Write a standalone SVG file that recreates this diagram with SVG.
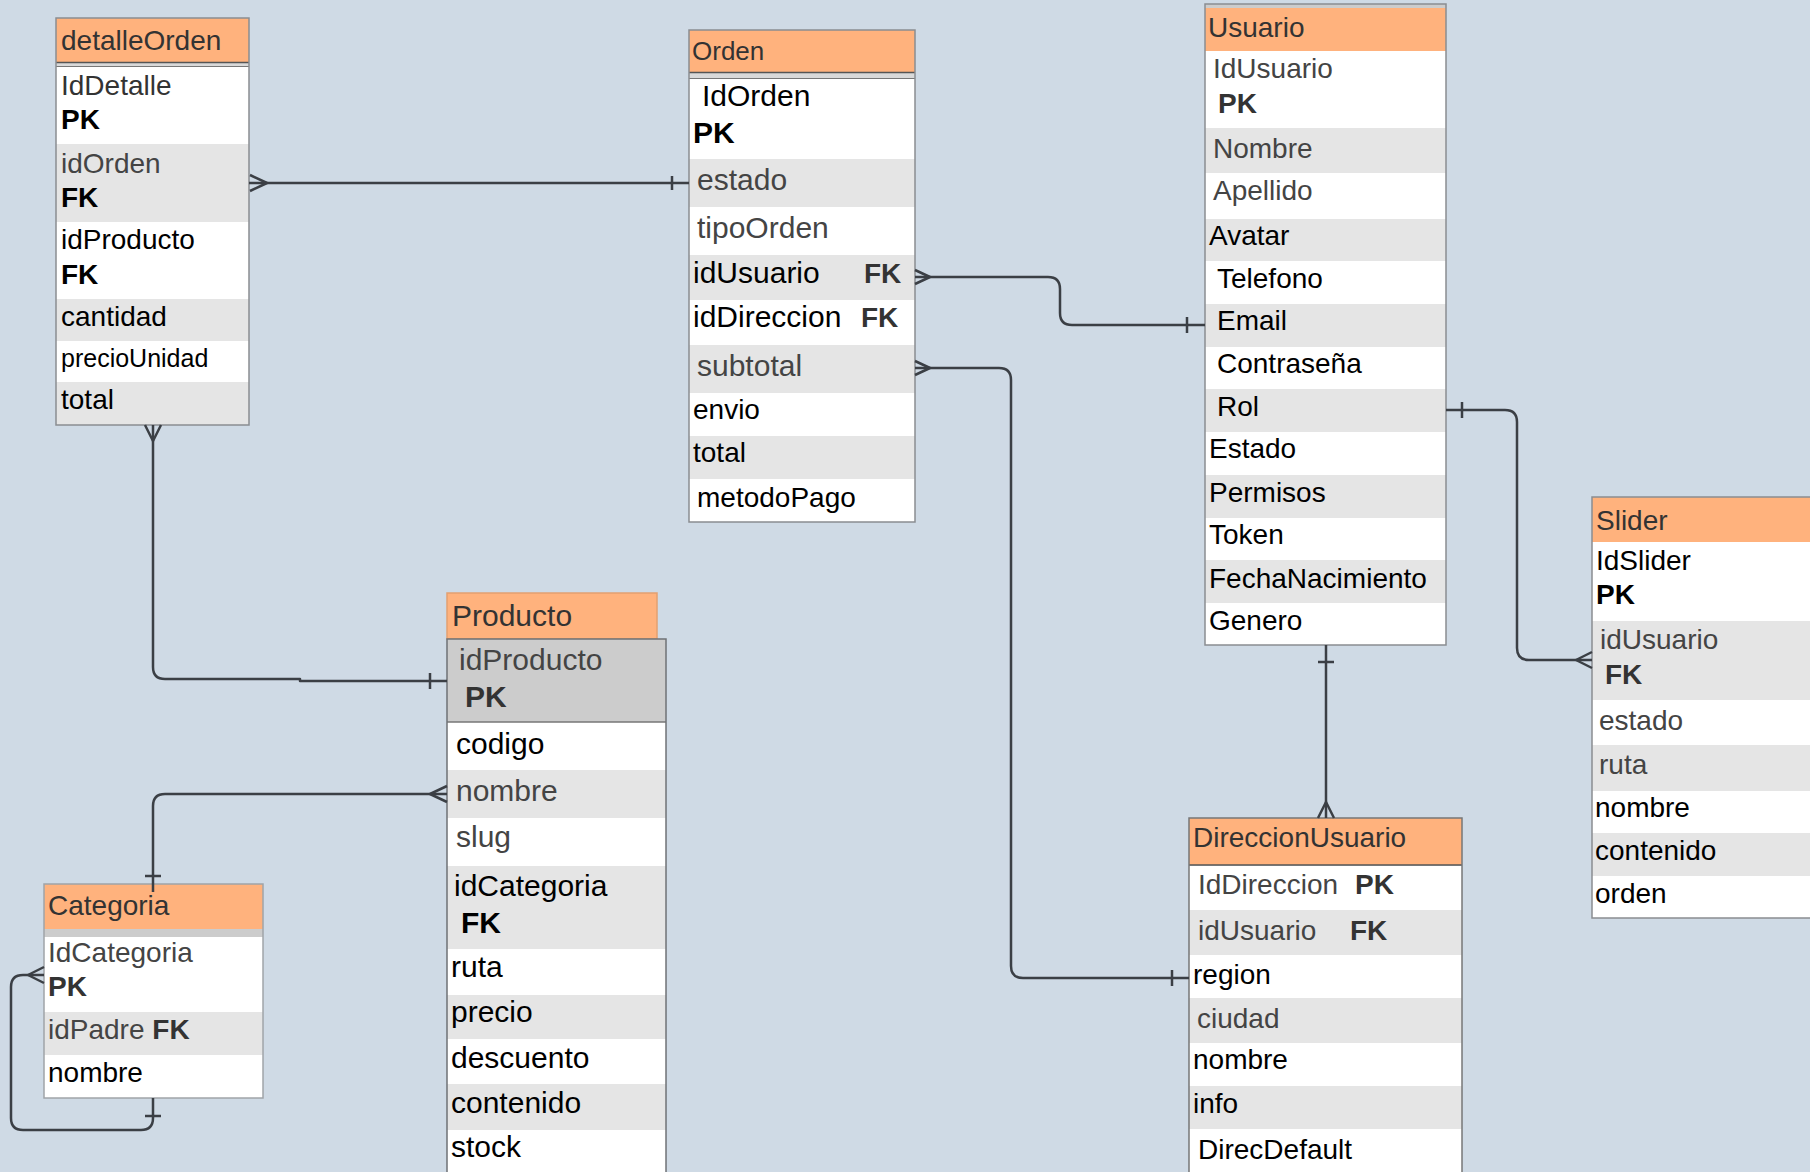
<svg xmlns="http://www.w3.org/2000/svg" width="1810" height="1172" viewBox="0 0 1810 1172">
<style>
text{font-family:"Liberation Sans",Arial,sans-serif;font-size:28px;fill:#000}
.h{fill:#ffb27d}
.w{fill:#ffffff}
.g{fill:#e5e5e5}
.d{fill:#cccccc}
.ht{fill:#333}
.gr{fill:#444}
.b{font-weight:bold}
.o{fill:none;stroke:#8a8d91;stroke-width:1.5}
.c path{fill:none;stroke:#3b3f45;stroke-width:2.5;stroke-linejoin:round}
.f30{font-size:30px}
</style>
<rect width="1810" height="1172" fill="#cfdae5"/>

<g id="detalleOrden">
<rect class="h" x="56" y="18" width="193" height="44"/>
<text class="ht" x="61" y="50">detalleOrden</text>
<rect x="56" y="62" width="193" height="5" fill="#d9d9d9"/>
<line x1="56" y1="62.5" x2="249" y2="62.5" stroke="#555" stroke-width="1.5"/>
<line x1="56" y1="66.5" x2="249" y2="66.5" stroke="#777" stroke-width="1"/>
<rect class="w" x="56" y="67" width="193" height="77"/>
<rect class="g" x="56" y="144" width="193" height="78"/>
<rect class="w" x="56" y="222" width="193" height="77"/>
<rect class="g" x="56" y="299" width="193" height="42"/>
<rect class="w" x="56" y="341" width="193" height="41"/>
<rect class="g" x="56" y="382" width="193" height="43"/>
<text class="ht" x="61" y="95">IdDetalle</text>
<text class="b" x="61" y="129" fill="#222">PK</text>
<text class="gr" x="61" y="173">idOrden</text>
<text class="b" x="61" y="207">FK</text>
<text x="61" y="249">idProducto</text>
<text class="b" x="61" y="284">FK</text>
<text x="61" y="326">cantidad</text>
<text x="61" y="367" style="font-size:25px">precioUnidad</text>
<text x="61" y="409">total</text>
<rect class="o" x="56" y="18" width="193" height="407"/>
</g>

<g id="Orden">
<rect class="h" x="689" y="30" width="226" height="42"/>
<text class="ht" x="692" y="60" style="font-size:26px">Orden</text>
<rect x="689" y="72" width="226" height="7" fill="#d9d9d9"/>
<line x1="689" y1="72.5" x2="915" y2="72.5" stroke="#555" stroke-width="1.5"/>
<line x1="689" y1="78.5" x2="915" y2="78.5" stroke="#777" stroke-width="1"/>
<rect class="w" x="689" y="79" width="226" height="80"/>
<rect class="g" x="689" y="159" width="226" height="48"/>
<rect class="w" x="689" y="207" width="226" height="48"/>
<rect class="g" x="689" y="255" width="226" height="45"/>
<rect class="w" x="689" y="300" width="226" height="45"/>
<rect class="g" x="689" y="345" width="226" height="48"/>
<rect class="w" x="689" y="393" width="226" height="43"/>
<rect class="g" x="689" y="436" width="226" height="43"/>
<rect class="w" x="689" y="479" width="226" height="43"/>
<text class="f30" x="702" y="106">IdOrden</text>
<text class="f30 b" x="693" y="143">PK</text>
<text class="f30 gr" x="697" y="190">estado</text>
<text class="f30 gr" x="697" y="238">tipoOrden</text>
<text class="f30" x="693" y="283">idUsuario</text>
<text class="b ht" x="864" y="283">FK</text>
<text class="f30" x="693" y="327">idDireccion</text>
<text class="b ht" x="861" y="327">FK</text>
<text class="f30 gr" x="697" y="376">subtotal</text>
<text x="693" y="419">envio</text>
<text x="693" y="462">total</text>
<text x="697" y="507">metodoPago</text>
<rect class="o" x="689" y="30" width="226" height="492"/>
</g>

<g id="Usuario">
<rect x="1205" y="4" width="241" height="4" fill="#cccccc"/>
<rect class="h" x="1205" y="8" width="241" height="43"/>
<text class="ht" x="1208" y="37">Usuario</text>
<rect class="w" x="1205" y="51" width="241" height="77"/>
<rect class="g" x="1205" y="128" width="241" height="45"/>
<rect class="w" x="1205" y="173" width="241" height="46"/>
<rect class="g" x="1205" y="219" width="241" height="42"/>
<rect class="w" x="1205" y="261" width="241" height="43"/>
<rect class="g" x="1205" y="304" width="241" height="43"/>
<rect class="w" x="1205" y="347" width="241" height="42"/>
<rect class="g" x="1205" y="389" width="241" height="43"/>
<rect class="w" x="1205" y="432" width="241" height="43"/>
<rect class="g" x="1205" y="475" width="241" height="43"/>
<rect class="w" x="1205" y="518" width="241" height="42"/>
<rect class="g" x="1205" y="560" width="241" height="43"/>
<rect class="w" x="1205" y="603" width="241" height="42"/>
<text class="gr" x="1213" y="78">IdUsuario</text>
<text class="b ht" x="1218" y="113">PK</text>
<text class="gr" x="1213" y="158">Nombre</text>
<text class="gr" x="1213" y="200">Apellido</text>
<text x="1209" y="245">Avatar</text>
<text x="1217" y="288">Telefono</text>
<text x="1217" y="330">Email</text>
<text x="1217" y="373">Contraseña</text>
<text x="1217" y="416">Rol</text>
<text x="1209" y="458">Estado</text>
<text x="1209" y="502">Permisos</text>
<text x="1209" y="544">Token</text>
<text x="1209" y="588">FechaNacimiento</text>
<text x="1209" y="630">Genero</text>
<rect class="o" x="1205" y="4" width="241" height="641"/>
</g>

<g id="Slider">
<rect class="h" x="1592" y="497" width="222" height="45"/>
<text class="ht" x="1596" y="530">Slider</text>
<rect class="w" x="1592" y="542" width="222" height="79"/>
<rect class="g" x="1592" y="621" width="222" height="79"/>
<rect class="w" x="1592" y="700" width="222" height="45"/>
<rect class="g" x="1592" y="745" width="222" height="46"/>
<rect class="w" x="1592" y="791" width="222" height="42"/>
<rect class="g" x="1592" y="833" width="222" height="43"/>
<rect class="w" x="1592" y="876" width="222" height="42"/>
<text x="1596" y="570">IdSlider</text>
<text class="b" x="1596" y="604">PK</text>
<text class="gr" x="1600" y="649">idUsuario</text>
<text class="b ht" x="1605" y="684">FK</text>
<text class="gr" x="1599" y="730">estado</text>
<text class="gr" x="1599" y="774">ruta</text>
<text x="1595" y="817">nombre</text>
<text x="1595" y="860">contenido</text>
<text x="1595" y="903">orden</text>
<rect class="o" x="1592" y="497" width="230" height="421"/>
</g>

<g id="Producto">
<rect class="h" x="447" y="593" width="210" height="46"/>
<rect class="o" x="447" y="593" width="210" height="46" style="stroke:#e3a070"/>
<text class="ht f30" x="452" y="626">Producto</text>
<rect class="d" x="447" y="639" width="219" height="83"/>
<rect class="w" x="447" y="722" width="219" height="48"/>
<rect class="g" x="447" y="770" width="219" height="48"/>
<rect class="w" x="447" y="818" width="219" height="48"/>
<rect class="g" x="447" y="866" width="219" height="83"/>
<rect class="w" x="447" y="949" width="219" height="46"/>
<rect class="g" x="447" y="995" width="219" height="44"/>
<rect class="w" x="447" y="1039" width="219" height="45"/>
<rect class="g" x="447" y="1084" width="219" height="46"/>
<rect class="w" x="447" y="1130" width="219" height="45"/>
<line x1="447" y1="722" x2="666" y2="722" stroke="#777" stroke-width="1.5"/>
<text class="f30 gr" x="459" y="670">idProducto</text>
<text class="f30 b ht" x="465" y="707">PK</text>
<text class="f30" x="456" y="754">codigo</text>
<text class="f30 gr" x="456" y="801">nombre</text>
<text class="f30 gr" x="456" y="847">slug</text>
<text class="f30" x="454" y="896">idCategoria</text>
<text class="f30 b" x="461" y="933">FK</text>
<text class="f30" x="451" y="977">ruta</text>
<text class="f30" x="451" y="1022">precio</text>
<text class="f30" x="451" y="1068">descuento</text>
<text class="f30" x="451" y="1113">contenido</text>
<text class="f30" x="451" y="1157">stock</text>
<rect x="447" y="639" width="219" height="540" fill="none" stroke="#6f7276" stroke-width="1.5"/>
</g>

<g id="Categoria">
<rect class="h" x="44" y="884" width="219" height="45"/>
<text class="ht" x="48" y="915">Categoria</text>
<rect x="44" y="929" width="219" height="8" fill="#cccccc"/>
<rect class="w" x="44" y="937" width="219" height="75"/>
<rect class="g" x="44" y="1012" width="219" height="43"/>
<rect class="w" x="44" y="1055" width="219" height="43"/>
<text class="gr" x="48" y="962">IdCategoria</text>
<text class="b ht" x="48" y="996">PK</text>
<text class="gr" x="48" y="1039">idPadre <tspan class="b ht">FK</tspan></text>
<text x="48" y="1082">nombre</text>
<rect class="o" x="44" y="884" width="219" height="214" style="stroke:#a0a4a8"/>
</g>

<g id="DireccionUsuario">
<rect class="h" x="1189" y="818" width="273" height="47"/>
<text class="ht" x="1193" y="847">DireccionUsuario</text>
<line x1="1189" y1="865" x2="1462" y2="865" stroke="#555" stroke-width="1.5"/>
<rect class="w" x="1189" y="866" width="273" height="44"/>
<rect class="g" x="1189" y="910" width="273" height="45"/>
<rect class="w" x="1189" y="955" width="273" height="43"/>
<rect class="g" x="1189" y="998" width="273" height="45"/>
<rect class="w" x="1189" y="1043" width="273" height="43"/>
<rect class="g" x="1189" y="1086" width="273" height="43"/>
<rect class="w" x="1189" y="1129" width="273" height="46"/>
<text class="gr" x="1198" y="894">IdDireccion</text>
<text class="b ht" x="1355" y="894">PK</text>
<text class="gr" x="1198" y="940">idUsuario</text>
<text class="b ht" x="1350" y="940">FK</text>
<text x="1193" y="984">region</text>
<text class="gr" x="1197" y="1028">ciudad</text>
<text x="1193" y="1069">nombre</text>
<text x="1193" y="1113">info</text>
<text x="1198" y="1159">DirecDefault</text>
<rect class="o" x="1189" y="818" width="273" height="360" style="stroke:#777"/>
</g>

<g id="connectors" class="c">
<!-- detalleOrden.idOrden >- Orden.estado -->
<path d="M249,183 H689"/>
<path d="M250,175 L267,183 L250,191"/>
<path d="M672,176 V190"/>
<!-- detalleOrden bottom >- Producto.idProducto -->
<path d="M153,425 V667 Q153,679 165,679 H300 V681 H447"/>
<path d="M145,425 L153,441 L161,425"/>
<path d="M430,673 V689"/>
<!-- Orden.idUsuario >- Usuario.Email -->
<path d="M915,277 H1048 Q1060,277 1060,289 V313 Q1060,325 1072,325 H1205"/>
<path d="M915,270 L930,277 L915,284"/>
<path d="M1187,317 V333"/>
<!-- Orden.subtotal >- DireccionUsuario.region -->
<path d="M915,368 H999 Q1011,368 1011,380 V966 Q1011,978 1023,978 H1189"/>
<path d="M915,361 L930,368 L915,375"/>
<path d="M1172,970 V986"/>
<!-- Usuario.Rol -< Slider.idUsuario -->
<path d="M1446,410 H1505 Q1517,410 1517,422 V648 Q1517,660 1529,660 H1592"/>
<path d="M1462,402 V418"/>
<path d="M1592,652 L1576,660 L1592,668"/>
<!-- Usuario -< DireccionUsuario -->
<path d="M1326,645 V818"/>
<path d="M1318,662 H1334"/>
<path d="M1318,818 L1326,802 L1334,818"/>
<!-- Producto.nombre >- Categoria -->
<path d="M447,794 H165 Q153,794 153,806 V892"/>
<path d="M447,786 L430,794 L447,802"/>
<path d="M145,876 H161"/>
<!-- Categoria self -->
<path d="M153,1098 V1118 Q153,1130 141,1130 H23 Q11,1130 11,1118 V987 Q11,975 23,975 H44"/>
<path d="M145,1116 H161"/>
<path d="M44,967 L28,975 L44,983"/>
</g>
</svg>
